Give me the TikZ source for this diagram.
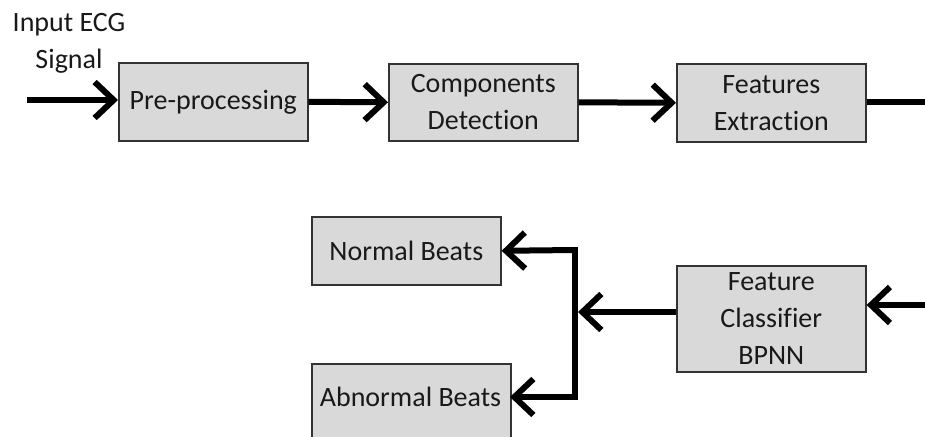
\documentclass[tikz,border=0pt]{standalone}
\usepackage{fontspec}
\setmainfont[Ligatures={NoCommon}]{Carlito}
\usetikzlibrary{arrows.meta}
\begin{document}
\begin{tikzpicture}[x=1pt,y=-1pt,
  txt/.style={font=\fontsize{28}{37}\selectfont, text=black!90, align=center, inner sep=0pt},
  box/.style={txt, draw=black!80, line width=1.6pt, fill=gray!30, minimum width=189pt, anchor=north west},
  thick line/.style={line width=6pt, draw=black},
  flow/.style={thick line, -{Straight Barb[length=19pt,width=36pt,line width=6pt]}}]
\useasboundingbox (0,0) rectangle (925,436);
\clip (0,0) rectangle (925,436);
% top row
\node[box, minimum height=78pt] (pre)  at (118,62) {Pre-processing};
\node[box, minimum height=77pt] (comp) at (388,63) {Components\\Detection};
\node[box, minimum height=78pt] (feat) at (676,63) {Features\\Extraction};
\node[txt] (lbl) at (69,43) {Input ECG\\Signal};
% bottom row
\node[box, minimum height=106pt] (cls) at (676,265) {Feature\\Classifier\\BPNN};
\node[box, minimum height=68pt] (norm) at (311,216) {Normal Beats};
\node[box, minimum height=90pt, minimum width=199pt] (abn) at (311,363) {};
\node[txt] (abnt) at (410.5,397) {Abnormal Beats};
\coordinate (abnE) at (510,397);
% connectors
\coordinate (in) at (27,100);
\coordinate (outR) at (930,102);
\coordinate (inR) at (930,305);
\coordinate (tr) at (575,312);
\coordinate (tn) at (575,250);
\coordinate (ta) at (575,397);
\draw[flow] (in) -- (pre.west |- in);
\draw[flow] (pre.east) -- (comp.west);
\draw[flow] (comp.east) -- (feat.west);
\draw[thick line] (feat.east |- outR) -- (outR);
\draw[flow] (inR) -- (cls.east |- inR);
\draw[flow] (cls.west |- tr) -- ([xshift=3pt]tr);
\draw[thick line, line cap=rect] (tn) -- (ta);
\draw[flow] (tn) -- (norm.east);
\draw[flow] (ta) -- (abnE);
\end{tikzpicture}
\end{document}
